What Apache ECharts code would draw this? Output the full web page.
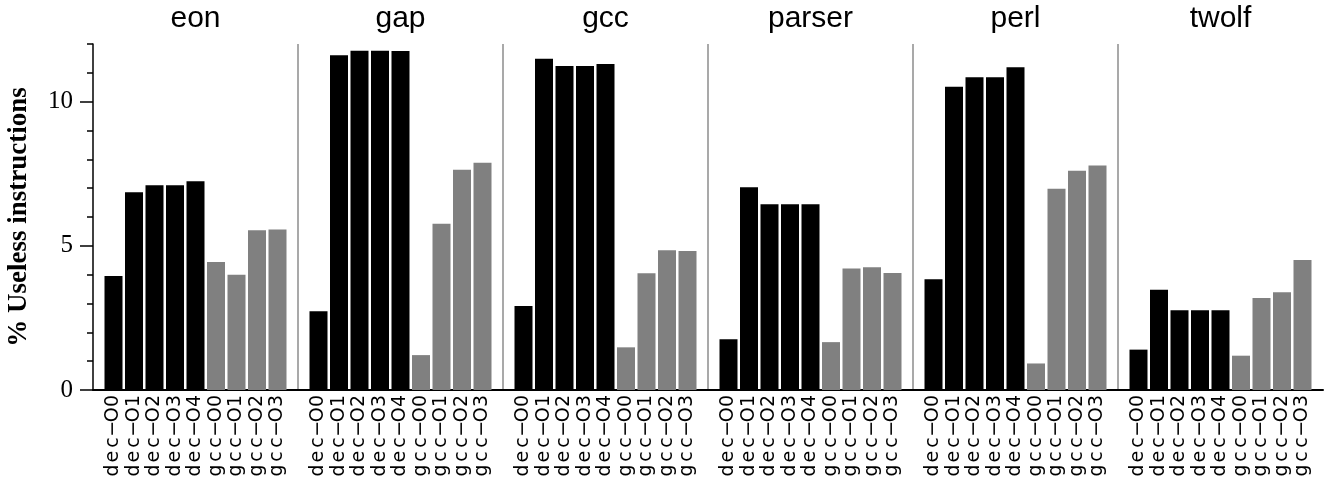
<!DOCTYPE html>
<html>
<head>
<meta charset="utf-8">
<script src="https://cdn.jsdelivr.net/npm/echarts@6/dist/echarts.min.js"></script>
<style>
html,body{margin:0;padding:0;background:#fff;}
#chart{width:1327px;height:484px;}
</style>
</head>
<body>
<div id="chart"></div>
<script>
// ---- data ----
const benchmarks = ['eon', 'gap', 'gcc', 'parser', 'perl', 'twolf'];
const optLevels = ['dec−O0', 'dec−O1', 'dec−O2', 'dec−O3', 'dec−O4', 'gcc−O0', 'gcc−O1', 'gcc−O2', 'gcc−O3'];
const eon    = [3.95, 6.86, 7.10, 7.10, 7.24, 4.44, 4.00, 5.54, 5.57];
const gap    = [2.73, 11.61, 11.77, 11.77, 11.76, 1.21, 5.77, 7.64, 7.88];
const gcc    = [2.91, 11.49, 11.24, 11.24, 11.31, 1.48, 4.05, 4.85, 4.82];
const parser = [1.76, 7.03, 6.44, 6.44, 6.44, 1.66, 4.21, 4.26, 4.06];
const perl   = [3.84, 10.52, 10.85, 10.85, 11.19, 0.92, 6.98, 7.60, 7.79];
const twolf  = [1.40, 3.48, 2.77, 2.77, 2.77, 1.19, 3.19, 3.39, 4.51];
const yTickLabels = ['0', '5', '10'];
const yAxisTitle = '% Useless instructions';

// ---- build category axis: a separator slot between benchmark groups ----
const allValues = [eon, gap, gcc, parser, perl, twolf];
const cats = ['#0'];
const decData = [null];
const gccData = [null];
benchmarks.forEach((b, k) => {
  optLevels.forEach((lvl, j) => {
    cats.push(b + ':' + lvl);
    const v = allValues[k][j];
    decData.push(lvl.startsWith('dec') ? v : null);
    gccData.push(lvl.startsWith('gcc') ? v : null);
  });
  cats.push('#' + (k + 1));
  decData.push(null);
  gccData.push(null);
});
const nCats = cats.length;

const chart = echarts.init(document.getElementById('chart'), null, {renderer: 'canvas'});
const option = {
  animation: false,
  backgroundColor: '#fff',
  grid: [
    {left: 93, right: 4, top: 44, bottom: 94, containLabel: false, outerBoundsMode: 'none'},
    {left: 93, right: 4, top: -42.5, bottom: 94, containLabel: false, outerBoundsMode: 'none'}
  ],
  xAxis: [
    {
      type: 'category', gridIndex: 0, data: cats, boundaryGap: false,
      axisLine: {show: true, lineStyle: {color: '#000', width: 2}},
      axisTick: {show: false},
      axisLabel: {
        interval: 0, rotate: 90, margin: 4,
        fontFamily: 'DejaVu Sans', fontSize: 19, color: '#000',
        formatter: function (v) {
          if (v.charAt(0) === '#') return '';
          const t = v.split(':')[1];
          return t.split('').map(ch => '{c|' + ch + '}').join('');
        },
        rich: {c: {fontFamily: 'DejaVu Sans', fontSize: 19, width: 13.9, align: 'center', color: '#000'}}
      },
      splitLine: {
        show: true,
        interval: function (i) { return i % 10 === 0 && i > 0 && i < nCats - 1; },
        lineStyle: {color: '#8c8c8c', width: 1.5}
      }
    },
    {
      type: 'category', gridIndex: 0, position: 'top', data: benchmarks, boundaryGap: true,
      axisLine: {show: false}, axisTick: {show: false}, splitLine: {show: false},
      axisLabel: {interval: 0, fontFamily: 'Liberation Sans', fontSize: 30, color: '#000', margin: 10}
    },
    {type: 'category', gridIndex: 1, data: cats, show: false}
  ],
  yAxis: [
    {
      type: 'value', gridIndex: 0, min: 0, max: 12, interval: 1,
      axisLine: {show: true, lineStyle: {color: '#000', width: 1.5}},
      axisTick: {show: true, length: 6, lineStyle: {color: '#000', width: 1.5}},
      axisLabel: {show: false},
      splitLine: {show: false},
      name: yAxisTitle, nameLocation: 'middle', nameRotate: 90, nameGap: 60,
      nameTextStyle: {fontFamily: 'Liberation Serif', fontWeight: 'bold', fontSize: 27, color: '#000'}
    },
    {
      type: 'value', gridIndex: 1, min: 0, max: 15, interval: 5,
      axisLine: {show: false},
      axisTick: {show: true, length: 13, lineStyle: {color: '#000', width: 1.5}},
      axisLabel: {
        fontFamily: 'Liberation Serif', fontSize: 25, color: '#000', margin: 20,
        formatter: function (v) { return yTickLabels.indexOf(String(v)) >= 0 ? String(v) : ''; }
      },
      splitLine: {show: false}
    }
  ],
  series: [
    {type: 'bar', name: 'dec', xAxisIndex: 0, yAxisIndex: 0, data: decData, barWidth: 18, barGap: '-100%',
     itemStyle: {color: '#000'}},
    {type: 'bar', name: 'gcc', xAxisIndex: 0, yAxisIndex: 0, data: gccData, barWidth: 18, barGap: '-100%',
     itemStyle: {color: '#808080'}}
  ]
};
chart.setOption(option);
</script>
</body>
</html>
